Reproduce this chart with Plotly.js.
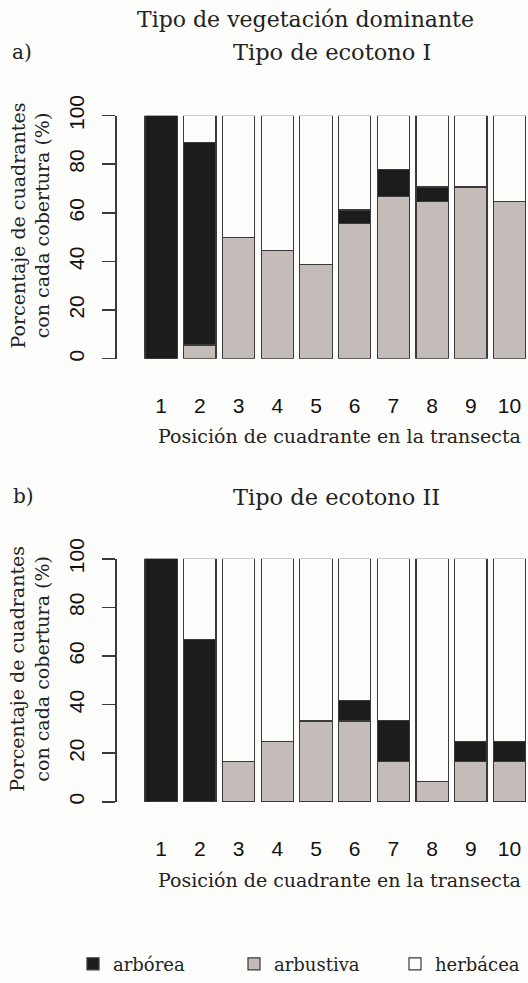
<!DOCTYPE html>
<html>
<head>
<meta charset="utf-8">
<script src="https://cdn.plot.ly/plotly-3.0.1.min.js"></script>
<style>
  html, body { margin: 0; padding: 0; background: #fdfdfc; }
  #chart { width: 528px; height: 983px; }
</style>
</head>
<body>
<div id="chart"></div>
<script>
// Quadrant positions along the transect
const positions = [1, 2, 3, 4, 5, 6, 7, 8, 9, 10];
const tickLabels = ["1", "2", "3", "4", "5", "6", "7", "8", "9", "10"];
const yTicks = [0, 20, 40, 60, 80, 100];

// a) Tipo de ecotono I (% of quadrants with each cover)
const arbustivaA = [0, 5.6, 50, 44.4, 38.9, 55.6, 66.7, 64.7, 70.6, 64.7];
const arboreaA   = [100, 83.3, 0, 0, 0, 5.6, 11.1, 5.9, 0, 0];
const herbaceaA  = [0, 11.1, 50, 55.6, 61.1, 38.8, 22.2, 29.4, 29.4, 35.3];

// b) Tipo de ecotono II
const arbustivaB = [0, 0, 16.7, 25, 33.3, 33.3, 16.7, 8.3, 16.7, 16.7];
const arboreaB   = [100, 66.7, 0, 0, 0, 8.3, 16.7, 0, 8.3, 8.3];
const herbaceaB  = [0, 33.3, 83.3, 75, 66.7, 58.4, 66.6, 91.7, 75, 75];

const seriesNames = ["arbórea", "arbustiva", "herbácea"];
const colArborea = "#1c1c1c";
const colArbustiva = "#c4bcb9";
const colHerbacea = "#fdfdfc";
const edge = "#3a3a3a";

const W = 528, H = 983;
const serif = "DejaVu Serif, serif";
const sans = "Liberation Sans, Arial, sans-serif";

function bar(x, y, name, color, xa, ya, show, legendId) {
  return {
    type: "bar", x: x, y: y, name: name,
    xaxis: xa, yaxis: ya,
    width: 0.835,
    marker: { color: color, line: { color: edge, width: 1.2 } },
    showlegend: show, legend: legendId,
    hoverinfo: "skip"
  };
}

const data = [
  bar(positions, arbustivaA, seriesNames[1], colArbustiva, "x", "y", true, "legend2"),
  bar(positions, arboreaA, seriesNames[0], colArborea, "x", "y", true, "legend"),
  bar(positions, herbaceaA, seriesNames[2], colHerbacea, "x", "y", true, "legend3"),
  bar(positions, arbustivaB, seriesNames[1], colArbustiva, "x2", "y2", false, "legend2"),
  bar(positions, arboreaB, seriesNames[0], colArborea, "x2", "y2", false, "legend"),
  bar(positions, herbaceaB, seriesNames[2], colHerbacea, "x2", "y2", false, "legend3")
];

function xax(anchor, dom) {
  return {
    domain: dom, anchor: anchor, range: [-0.15, 10.479],
    showline: false, showgrid: false, zeroline: false, ticks: "",
    tickmode: "array", tickvals: positions, ticktext: tickLabels,
    tickfont: { family: sans, size: 21, color: "#111" },
    ticklabelstandoff: 32
  };
}
function yax(anchor, dom) {
  return {
    domain: dom, anchor: anchor, range: [0, 100],
    showline: true, linecolor: "#3a3a3a", linewidth: 1.6, mirror: false,
    showgrid: false, zeroline: false,
    ticks: "outside", ticklen: 13, tickcolor: "#3a3a3a", tickwidth: 1.6,
    tickmode: "array", tickvals: yTicks, ticktext: yTicks.map(String),
    tickangle: -90,
    tickfont: { family: sans, size: 21, color: "#111" },
    ticklabelstandoff: 10
  };
}

function px(x) { return x / W; }
function py(y) { return 1 - y / H; }

function ann(text, x, y, size, extra) {
  return Object.assign({
    text: text, xref: "paper", yref: "paper", x: px(x), y: py(y),
    xanchor: "center", yanchor: "middle", showarrow: false,
    font: { family: serif, size: size, color: "#222" }
  }, extra || {});
}

function leg(x) {
  return {
    orientation: "h", x: px(x), y: py(973), xanchor: "left", yanchor: "middle",
    font: { family: serif, size: 18, color: "#222" },
    bgcolor: "rgba(0,0,0,0)", borderwidth: 0
  };
}

const yTitle = "Porcentaje de cuadrantes<br>con cada cobertura (%)";
const xTitle = "Posición de cuadrante en la transecta";

const layout = {
  width: W, height: H,
  margin: { l: 0, r: 0, t: 0, b: 0 },
  paper_bgcolor: "#fdfdfc", plot_bgcolor: "#fdfdfc",
  barmode: "stack",
  xaxis: xax("y", [116.7 / W, 1]),
  yaxis: yax("x", [py(362), py(116.7)]),
  xaxis2: xax("y2", [116.7 / W, 1]),
  yaxis2: yax("x2", [py(809.3), py(564)]),
  showlegend: true,
  legend: leg(73),
  legend2: leg(234),
  legend3: leg(395),
  annotations: [
    ann("Tipo de vegetación dominante", 305, 20, 22),
    ann("a)", 22, 52, 20),
    ann("Tipo de ecotono I", 332, 52, 22.5),
    ann(yTitle, 30, 227.5, 19, { textangle: -90 }),
    ann(xTitle, 339, 440, 19),
    ann("b)", 23, 501, 20),
    ann("Tipo de ecotono II", 336, 502, 22.5),
    ann(yTitle, 30, 675, 19, { textangle: -90 }),
    ann(xTitle, 339, 888, 19)
  ]
};

Plotly.newPlot("chart", data, layout, { staticPlot: true, displayModeBar: false });
</script>
</body>
</html>
